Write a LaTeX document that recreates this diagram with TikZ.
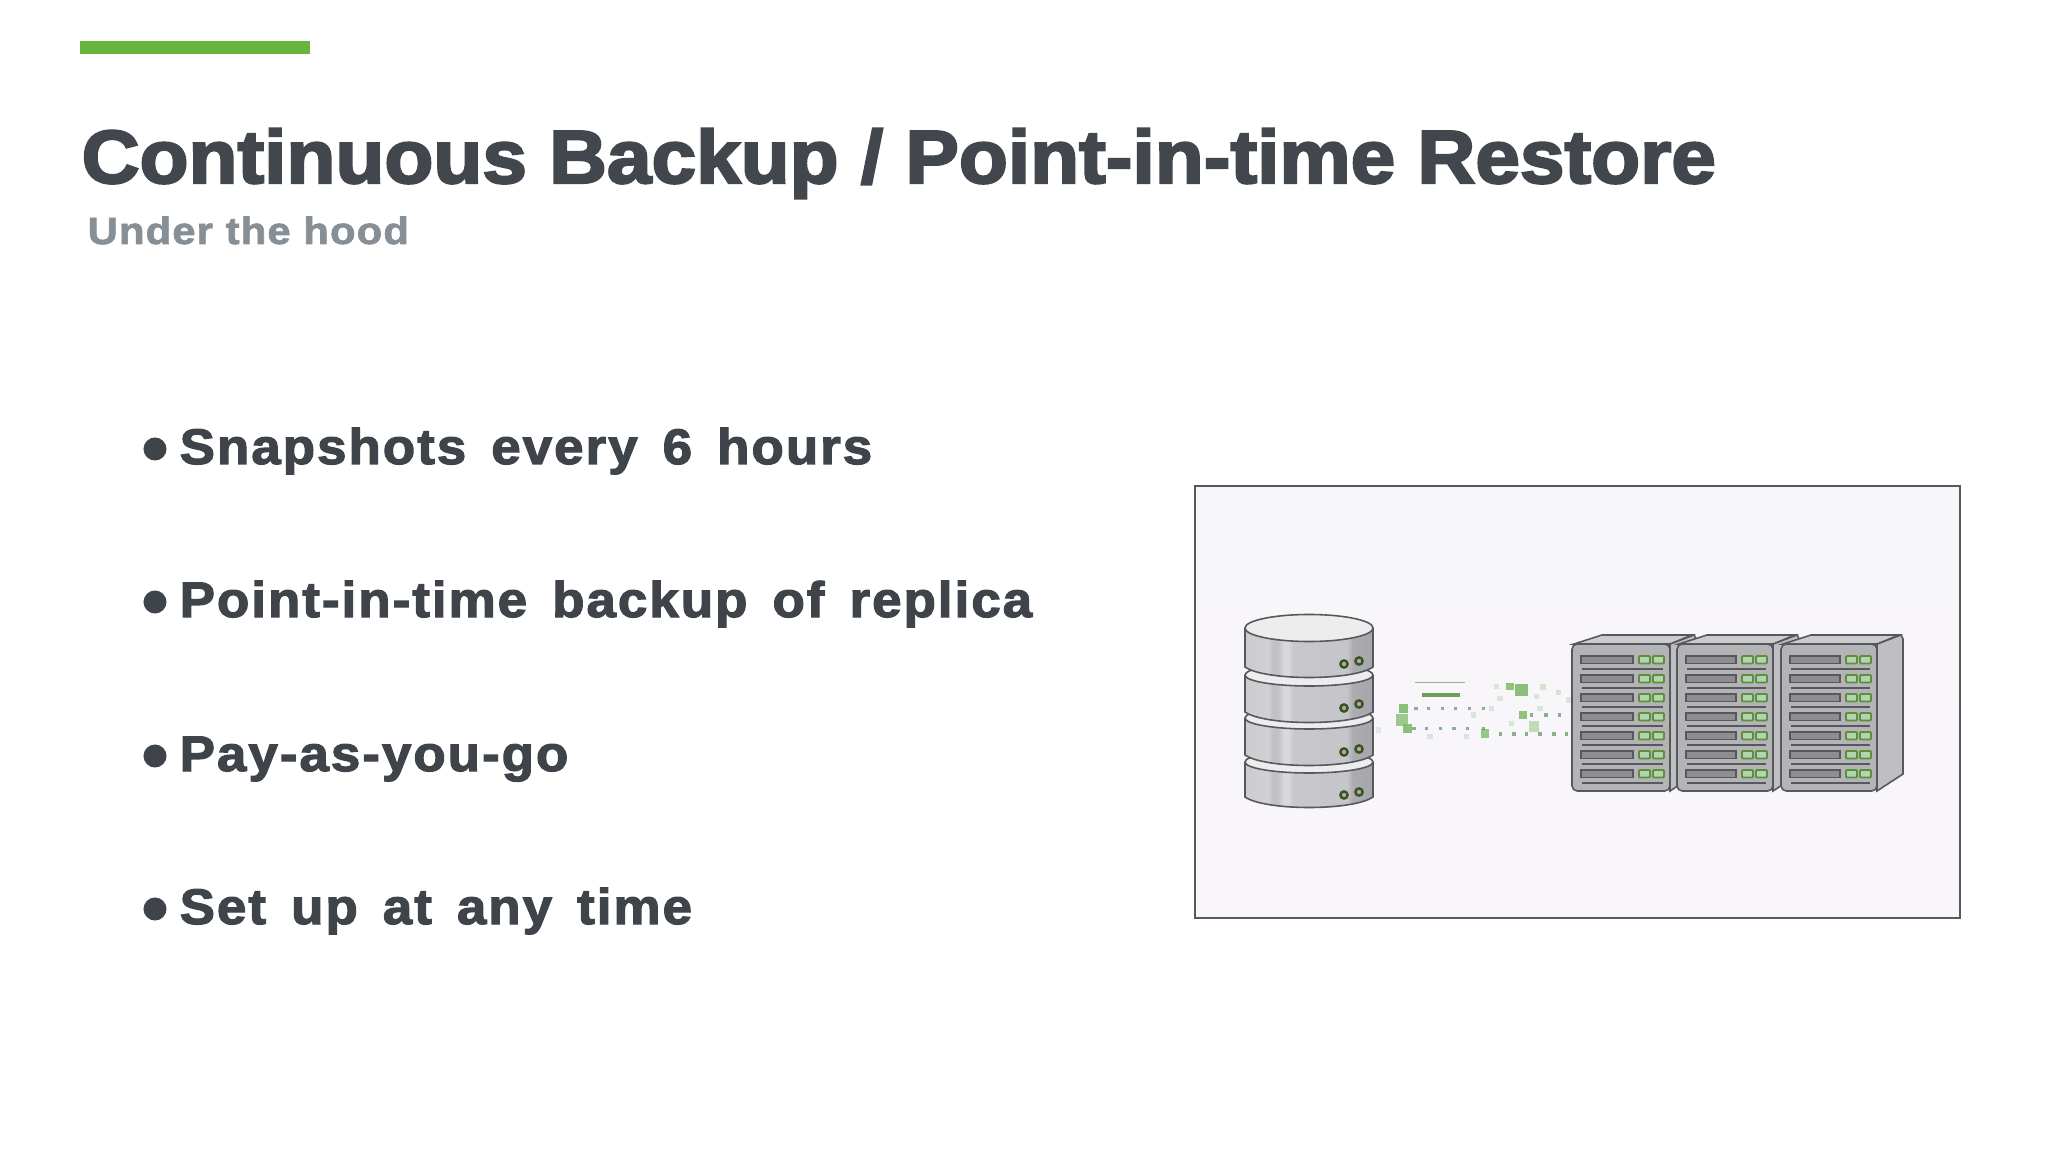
\documentclass[tikz,border=0pt]{standalone}
\usepackage{fontspec}
\usepackage{xcolor}
\setmainfont{Liberation Sans}
\newfontfamily\titlefont[BoldFeatures={FakeBold=3,FakeStretch=1.065}]{Liberation Sans}
\newfontfamily\subfont[BoldFeatures={FakeBold=1.8,FakeStretch=1.1},LetterSpace=3]{Liberation Sans}
\newfontfamily\itemfont[BoldFeatures={FakeBold=2.4,FakeStretch=1.06},LetterSpace=4,WordSpace=1.5]{Liberation Sans}
\definecolor{barGreen}{HTML}{69B33F}
\definecolor{titleGrey}{HTML}{42474D}
\definecolor{subGrey}{HTML}{868E96}
\definecolor{itemGrey}{HTML}{3F444A}
\definecolor{lineGrey}{HTML}{55585C}
\definecolor{rackGrey}{HTML}{B4B4B7}
\definecolor{slotGrey}{HTML}{8E8E90}
\definecolor{ledGreen}{HTML}{5F8F3A}
\definecolor{bitGreen}{HTML}{7FBB6A}
\definecolor{frameTop}{HTML}{F7F7F9}
\definecolor{frameBottom}{HTML}{F9F5FA}
\pgfdeclarehorizontalshading{diskshade}{100bp}{
  rgb(0bp)=(0.80,0.80,0.81);
  rgb(25bp)=(0.80,0.80,0.81);
  rgb(34bp)=(0.82,0.82,0.83);
  rgb(36bp)=(0.75,0.75,0.77);
  rgb(38bp)=(0.76,0.76,0.78);
  rgb(40bp)=(0.85,0.85,0.86);
  rgb(42bp)=(0.85,0.85,0.86);
  rgb(44bp)=(0.78,0.78,0.80);
  rgb(65bp)=(0.77,0.77,0.79);
  rgb(67bp)=(0.67,0.67,0.69);
  rgb(75bp)=(0.65,0.65,0.67);
  rgb(100bp)=(0.65,0.65,0.67)}
\tikzset{
  x=0.01cm, y=-0.01cm,
  textnode/.style={anchor=base west, inner sep=0pt},
  itemnode/.style={textnode, text=itemGrey, font=\itemfont\fontsize{14.2pt}{16pt}\selectfont\bfseries},
  bulletdot/.style={circle, fill=itemGrey, inner sep=0pt, minimum size=0.23cm},
  outline/.style={draw=lineGrey, line width=0.45pt},
  ledbox/.style={draw=ledGreen, fill=rackGrey!80!green!70!white, line width=0.55pt, rounded corners=0.3pt},
  slotbox/.style={draw=lineGrey, fill=slotGrey, line width=0.5pt}
}
\begin{document}
\begin{tikzpicture}
  \useasboundingbox (0,0) rectangle (2048,1152);
  \fill[white] (0,0) rectangle (2048,1152);

  \fill[barGreen] (80,41) rectangle (310,54);
  \node[textnode, text=titleGrey, font=\titlefont\fontsize{21.4pt}{24pt}\selectfont\bfseries] (title) at (81,183)
    {Continuous Backup / Point-in-time Restore};
  \node[textnode, text=subGrey, font=\subfont\fontsize{10.8pt}{13pt}\selectfont\bfseries] (subtitle) at (87,244)
    {Under the hood};

  \foreach \name/\ty/\label in {snap/464/Snapshots every 6 hours,
      pitr/617/Point-in-time backup of replica,
      payg/771/Pay-as-you-go,
      setup/924/Set up at any time} {
    \node[itemnode] (\name) at (179,\ty) {\label};
    \node[bulletdot] (\name dot) at (155,\ty-15) {};
  }

  \shade[top color=frameTop, bottom color=frameBottom] (1195,486) rectangle (1960,918);
  \draw[lineGrey, line width=0.5pt] (1195,486) rectangle (1960,918);

  % disks, lowest one first
  \foreach \ya/\yb/\ry in {762/797/11,718/755/11,675/712/11,628/667/13.5} {
    \shade[shading=diskshade] (1245,\ya) -- (1245,\yb)
      .. controls (1265,\yb+14) and (1353,\yb+14) .. (1373,\yb) -- (1373,\ya) -- cycle;
    \draw[outline] (1245,\ya) -- (1245,\yb)
      .. controls (1265,\yb+14) and (1353,\yb+14) .. (1373,\yb) -- (1373,\ya);
    \draw[outline, fill=gray!14] (1309,\ya) ellipse [x radius=64, y radius=\ry];
  }
  \foreach \ya/\yb in {664/661,708/704,752/749,795/792} {
    \draw[ledGreen!60!black, fill=gray!65, line width=0.7pt] (1344,\ya) circle (3.6);
    \draw[ledGreen!60!black, fill=gray!65, line width=0.7pt] (1359,\yb) circle (3.6);
  }

  % bits in flight
  \begin{scope}[shift={(1190,580)}, scale=1/3]
    \foreach \cx/\cy/\s/\o in {640/385/26/0.9,637/420/36/0.75,652/445/26/0.9,960/320/22/0.85,
        995/330/38/0.9,998/405/24/0.85,1032/440/32/0.45,885/460/26/0.8,1060/322/18/0.3,
        1105/338/14/0.3,565/450/16/0.2} {
      \fill[bitGreen, opacity=\o] (\cx-\s/2,\cy-\s/2) rectangle (\cx+\s/2,\cy+\s/2);
    }
    \foreach \cx/\cy in {678/385,715/385,758/385,797/385,838/385,880/385,672/445,710/445,752/445,
        792/445,832/445,880/445,932/462,972/462,1010/462,1050/462,1092/462,1130/462,1025/405,
        1068/405,1108/405} {
      \fill[gray!80!green, opacity=0.75] (\cx-5,\cy-5) rectangle (\cx+5,\cy+5);
    }
    \foreach \cx/\cy in {920/320,930/355,1040/350,1050/385,965/430,830/470,720/470,1135/360,905/385,850/405} {
      \fill[gray!60!green, opacity=0.2] (\cx-8,\cy-8) rectangle (\cx+8,\cy+8);
    }
    \draw[gray!80!green, opacity=0.7, line width=0.4pt] (675,308) -- (825,308);
    \draw[bitGreen!85!black, line width=1.1pt] (697,345) -- (810,345);
  \end{scope}

  % racks, from the left
  \foreach \sx/\sw in {1572/98,1677/96,1781/96} {
    \draw[outline, fill=rackGrey!85!white] (\sx+\sw,644) -- (\sx+\sw+24,635) -- (\sx+\sw+26,639) -- (\sx+\sw+26,774) -- (\sx+\sw,791) -- cycle;
    \draw[outline, fill=gray!40] (\sx+2,644) -- (\sx+30,635) -- (\sx+\sw+22,635) -- (\sx+\sw,644) -- cycle;
    \draw[outline, fill=rackGrey, rounded corners=1.5pt] (\sx,644) rectangle (\sx+\sw,791);
    \foreach \i in {0,...,6} {
      \draw[slotbox] (\sx+9,656+19*\i) rectangle (\sx+\sw-37,663.5+19*\i);
      \draw[ledbox] (\sx+\sw-31,656+19*\i) rectangle (\sx+\sw-20,663.5+19*\i);
      \draw[ledbox] (\sx+\sw-17,656+19*\i) rectangle (\sx+\sw-6,663.5+19*\i);
      \draw[lineGrey, line width=0.5pt] (\sx+10,669+19*\i) -- (\sx+\sw-7,669+19*\i);
    }
  }
\end{tikzpicture}
\end{document}
